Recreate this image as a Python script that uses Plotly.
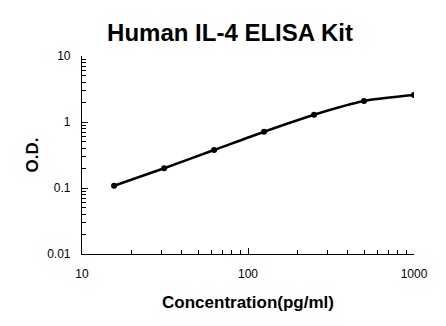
import plotly.graph_objects as go

concentration = [15.6, 31.25, 62.5, 125, 250, 500, 1000]
od = [0.108, 0.199, 0.376, 0.713, 1.29, 2.08, 2.56]

fig = go.Figure()
fig.add_trace(go.Scatter(
    x=concentration, y=od, mode="lines+markers",
    line=dict(color="black", width=2.5, shape="spline", smoothing=0.8),
    marker=dict(color="black", size=6),
    showlegend=False,
))

font_family = "Liberation Sans, Arial, sans-serif"
fig.update_layout(
    width=446, height=326,
    margin=dict(l=82, r=32, t=56, b=72),
    paper_bgcolor="white", plot_bgcolor="white",
    font=dict(family=font_family, color="black", size=12),
    title=dict(text="<b>Human IL-4 ELISA Kit</b>", x=230 / 446, xanchor="center",
               y=1 - 33 / 326, yanchor="middle", font=dict(size=24)),
)
fig.update_xaxes(
    type="log", range=[1, 3], showgrid=False, zeroline=False,
    showline=True, linecolor="black", linewidth=1.2,
    ticks="inside", ticklen=6, tickcolor="black", dtick=1,
    tickvals=[10, 100, 1000], ticktext=["10", "100", "1000"],
    minor=dict(ticks="inside", ticklen=4, tickcolor="black", dtick="D1", showgrid=False),
    ticklabelstandoff=8,
    title=dict(text="<b>Concentration(pg/ml)</b>", font=dict(size=17), standoff=16),
)
fig.update_yaxes(
    type="log", range=[-2, 1], showgrid=False, zeroline=False,
    showline=True, linecolor="black", linewidth=1.2,
    ticks="inside", ticklen=6, tickcolor="black",
    tickvals=[0.01, 0.1, 1, 10], ticktext=["0.01", "0.1", "1", "10"],
    minor=dict(ticks="inside", ticklen=4, tickcolor="black", dtick="D1", showgrid=False),
    ticklabelstandoff=8,
    title=dict(text="<b>O.D.</b>", font=dict(size=17), standoff=4),
)

fig.write_html("out.html")
